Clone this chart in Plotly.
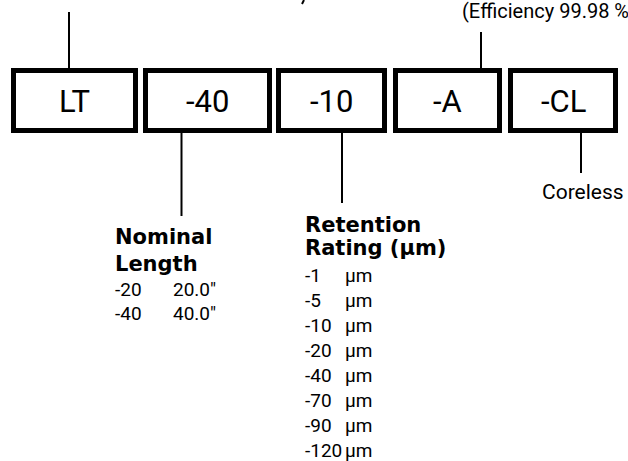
import plotly.graph_objects as go

# ---- content ----
part_codes = ["LT", "-40", "-10", "-A", "-CL"]
length_codes = ["-20", "-40"]
length_values = ['20.0"', '40.0"']
retention_codes = ["-1", "-5", "-10", "-20", "-40", "-70", "-90", "-120"]
retention_unit = "µm"
length_title = ["Nominal", "Length"]
retention_title = ["Retention", "Rating (µm)"]
efficiency_text = "(Efficiency 99.98 %)"
coreless_text = "Coreless"

W, H = 628, 461
NARROW = "Roboto, Liberation Sans, sans-serif"
BOLD = "DejaVu Sans, Verdana, sans-serif"

# box geometry (outer edges, px)
box_x = [(11, 138), (143, 272), (276, 387), (393, 502), (508, 618)]
box_top, box_bot = 68, 133
bw = 5

shapes = []
annotations = []
for (x0, x1), code in zip(box_x, part_codes):
    shapes.append(dict(type="rect", x0=x0 + bw / 2, x1=x1 - bw / 2,
                       y0=box_top + bw / 2, y1=box_bot - bw / 2,
                       line=dict(color="black", width=bw), fillcolor="white", layer="below"))
    annotations.append(dict(x=(x0 + x1) / 2, y=(box_top + box_bot) / 2 + 1, text=code,
                            showarrow=False, xanchor="center", yanchor="middle",
                            font=dict(family=NARROW, size=31, color="black")))

def vline(x, y0, y1):
    shapes.append(dict(type="line", x0=x, x1=x, y0=y0, y1=y1,
                       line=dict(color="black", width=2)))

vline(69, 12, box_top)          # LT leader
vline(481, 32, box_top)         # -A leader
vline(181.5, box_bot, 216)      # -40 leader
vline(342, box_bot, 203)        # -10 leader
vline(581, box_bot, 173)        # -CL leader
shapes.append(dict(type="line", x0=304, x1=302, y0=0, y1=4, line=dict(color="black", width=2)))

def txt(x, y, s, size, family, bold=False):
    annotations.append(dict(x=x, y=y, text=f"<b>{s}</b>" if bold else s, showarrow=False,
                            xanchor="left", yanchor="middle",
                            font=dict(family=family, size=size, color="black")))

body = 19
txt(460, 11, efficiency_text, 20, NARROW)
txt(540, 192, coreless_text, 21, NARROW)

# Nominal length block
for i, t in enumerate(length_title):
    txt(113, 237 + i * 27, t, 21, BOLD, bold=True)
for i, (c, v) in enumerate(zip(length_codes, length_values)):
    txt(113, 289 + i * 24, c, body, NARROW)
    txt(171, 289 + i * 24, v, body, NARROW)

# Retention block
for i, t in enumerate(retention_title):
    txt(303, 225 + i * 23, t, 21, BOLD, bold=True)
for i, c in enumerate(retention_codes):
    txt(303, 275 + i * 25, c, body, NARROW)
    txt(343, 275 + i * 25, retention_unit, body, NARROW)

fig = go.Figure()
fig.update_layout(
    width=W, height=H, margin=dict(l=0, r=0, t=0, b=0),
    paper_bgcolor="white", plot_bgcolor="white",
    xaxis=dict(range=[0, W], visible=False, fixedrange=True),
    yaxis=dict(range=[H, 0], visible=False, fixedrange=True),
    shapes=shapes, annotations=annotations, showlegend=False,
)
fig.write_html("out.html", config={"displayModeBar": False},
               post_script="document.body.style.margin='0';document.body.style.overflow='hidden';")
